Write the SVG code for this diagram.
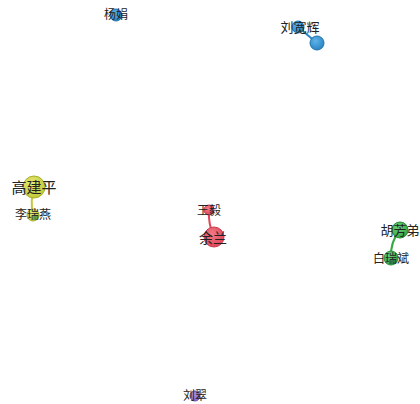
<svg xmlns="http://www.w3.org/2000/svg" width="420" height="404" viewBox="0 0 420 404">
<defs>
<radialGradient id="gb" cx="40%" cy="35%" r="65%"><stop offset="0" stop-color="#5fb3e8"/><stop offset="1" stop-color="#2a86c6"/></radialGradient>
<radialGradient id="gy" cx="40%" cy="35%" r="65%"><stop offset="0" stop-color="#e6ea7a"/><stop offset="1" stop-color="#c3c93a"/></radialGradient>
<radialGradient id="gr" cx="40%" cy="35%" r="65%"><stop offset="0" stop-color="#f27a86"/><stop offset="1" stop-color="#e0475a"/></radialGradient>
<radialGradient id="gg" cx="40%" cy="35%" r="65%"><stop offset="0" stop-color="#6fd07a"/><stop offset="1" stop-color="#33a844"/></radialGradient>
<radialGradient id="gp" cx="40%" cy="35%" r="65%"><stop offset="0" stop-color="#b596dd"/><stop offset="1" stop-color="#8a62c0"/></radialGradient>
</defs>
<style>
.b{fill:url(#gb);stroke:#2173ad;stroke-width:1}
.y{fill:url(#gy);stroke:#a9ae2a;stroke-width:1}
.r{fill:url(#gr);stroke:#c73a4c;stroke-width:1}
.g{fill:url(#gg);stroke:#2a8a38;stroke-width:1}
.p{fill:url(#gp);stroke:#7250a3;stroke-width:1}
text{font-family:"Noto Sans CJK SC","Noto Sans CJK JP",sans-serif;fill:#222;text-anchor:middle}
.e{fill:none;stroke-width:2}
</style>
<g id="connectors">
<path class="e" d="M298,27 L317,43" stroke="#2a86c6"/>
<path class="e" d="M34,187 Q30,201 33,215" stroke="#c3c93a"/>
<path class="e" d="M209,210 Q208,224 214,237" stroke="#e0475a"/>
<path class="e" d="M400,230 Q390,242 391,258" stroke="#33a844"/>
</g>
<g id="n-yangjuan"><circle class="b" cx="116" cy="15" r="6"/><text x="116" y="19" font-size="12">杨娟</text></g>
<g id="n-b2"><circle class="b" cx="317" cy="43" r="7"/></g>
<g id="n-liukuanhui"><circle class="b" cx="298" cy="27" r="6"/><text x="300" y="32" font-size="13">刘宽辉</text></g>
<g id="n-gaojianping"><circle class="y" cx="34" cy="187" r="11"/><text x="34" y="193" font-size="15">高建平</text></g>
<g id="n-liruiyan"><circle class="y" cx="33" cy="215" r="6"/><text x="33" y="219" font-size="12">李瑞燕</text></g>
<g id="n-wangyi"><circle class="r" cx="209" cy="210" r="5"/><text x="209" y="215" font-size="12">王毅</text></g>
<g id="n-yulan"><circle class="r" cx="214" cy="237" r="10"/><text x="213" y="243" font-size="14">余兰</text></g>
<g id="n-hufangdi"><circle class="g" cx="400" cy="230" r="8"/><text x="400" y="235" font-size="13">胡芳弟</text></g>
<g id="n-bairuibin"><circle class="g" cx="391" cy="258" r="7"/><text x="391" y="263" font-size="12">白瑞斌</text></g>
<g id="n-liucui"><circle class="p" cx="195" cy="396" r="5"/><text x="195" y="400" font-size="12">刘翠</text></g>
</svg>
